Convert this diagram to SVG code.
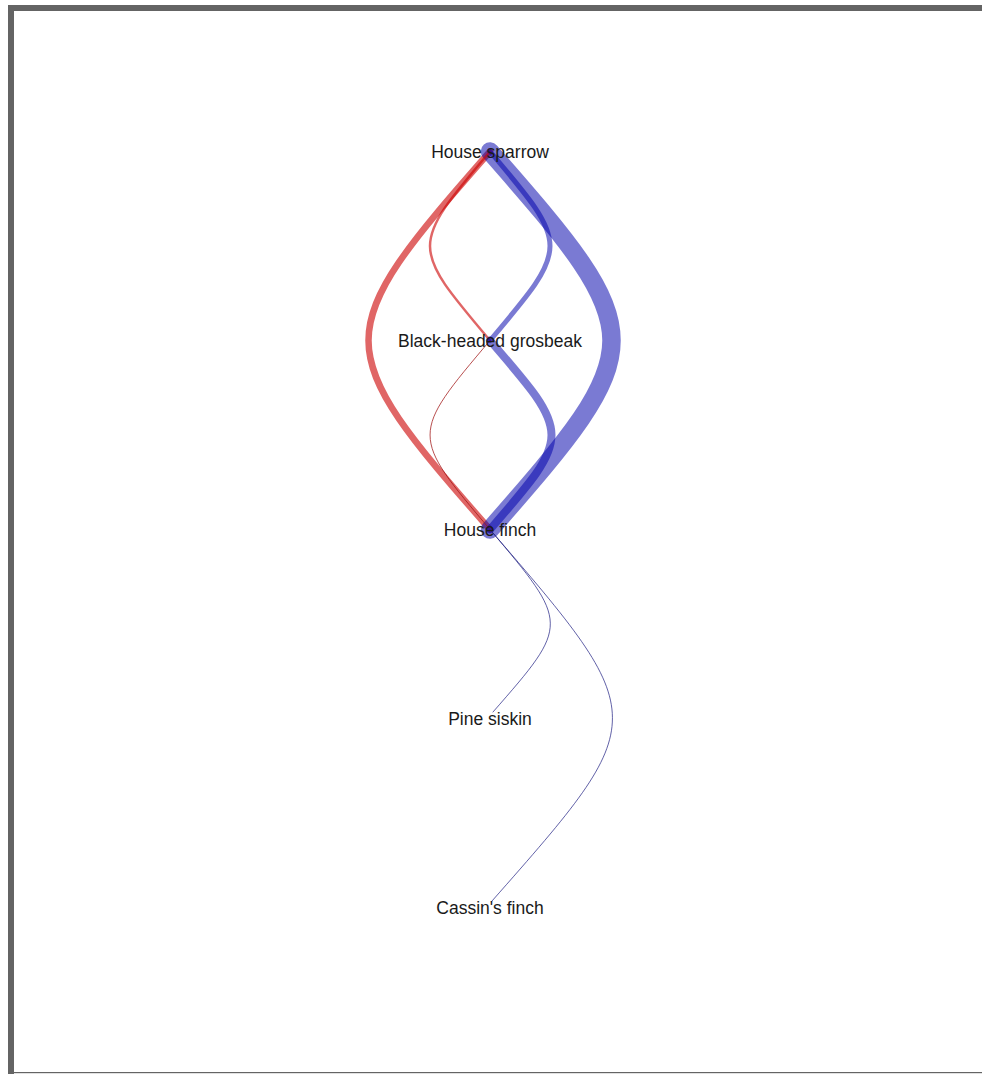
<svg xmlns="http://www.w3.org/2000/svg" width="982" height="1074" viewBox="0 0 982 1074">
<style>
.frame{fill:#646464}
.e{fill:none;stroke-linecap:round}
.red{stroke:rgb(204,0,0);stroke-opacity:0.6}
.blue{stroke:rgb(0,0,170);stroke-opacity:0.52}
.thin{stroke:rgb(30,30,130);stroke-opacity:0.7;stroke-width:1}
.thinred{stroke:rgb(160,20,20);stroke-opacity:0.75;stroke-width:1}
.lbl{font-family:"Liberation Sans",Arial,sans-serif;font-size:17.5px;fill:#1a1a1a;text-anchor:middle}
</style>
<rect width="982" height="1074" fill="#ffffff"/>
<rect class="frame" x="8" y="5" width="974" height="6"/>
<rect class="frame" x="8" y="5" width="6" height="1069"/>
<rect class="frame" x="14" y="1072" width="968" height="1.2"/>
<g id="connectors">
<path class="e red" stroke-width="6.5" d="M490,151.5 C328,336 328,345 490,529.5"/>
<path class="e blue" stroke-width="18.5" d="M490,151.5 C652,336 652,345 490,529.5"/>
<path class="e red" stroke-width="2.5" d="M490,151.5 C410,246 410,246 490,340.5"/>
<path class="e blue" stroke-width="5" d="M490,151.5 C570,246 570,246 490,340.5"/>
<path class="e thinred" d="M490,340.5 C410,435 410,435 490,529.5"/>
<path class="e blue" stroke-width="8" d="M490,340.5 C572,435 572,435 490,529.5"/>
<path class="e thin" d="M490,529.5 C570,624 570,624 493,712"/>
<path class="e thin" d="M490,529.5 C653,718.5 653,718.5 492,901"/>
</g>
<g id="node-house-sparrow"><text class="lbl" x="490" y="158">House sparrow</text></g>
<g id="node-black-headed-grosbeak"><text class="lbl" x="490" y="347">Black-headed grosbeak</text></g>
<g id="node-house-finch"><text class="lbl" x="490" y="536">House finch</text></g>
<g id="node-pine-siskin"><text class="lbl" x="490" y="725">Pine siskin</text></g>
<g id="node-cassins-finch"><text class="lbl" x="490" y="914">Cassin's finch</text></g>
</svg>
